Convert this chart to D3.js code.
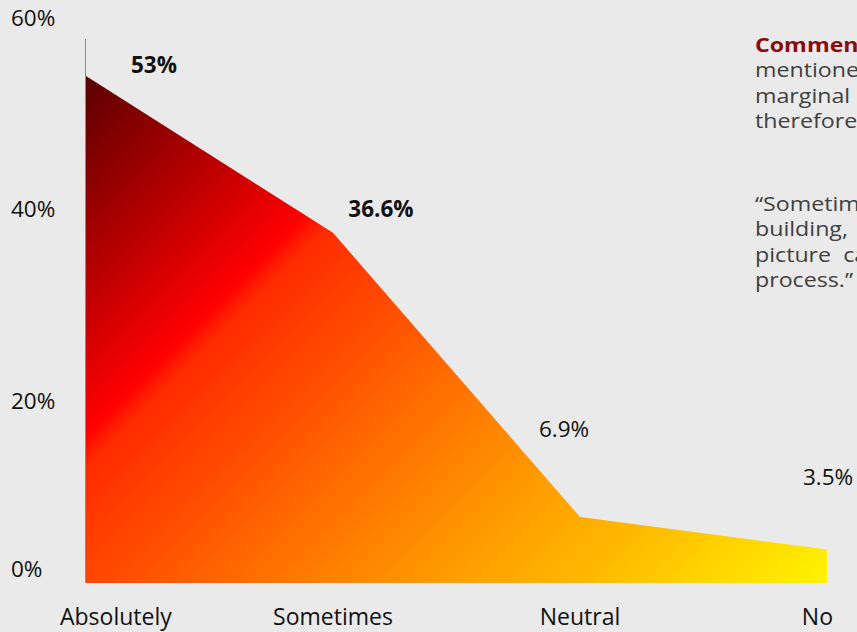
<!DOCTYPE html>
<html>
<head>
<meta charset="utf-8">
<script src="https://cdn.jsdelivr.net/npm/d3@7"></script>
<style>
  html, body { margin: 0; padding: 0; background: #eaeaea; }
  svg { display: block; font-family: "Open Sans", sans-serif; }
</style>
</head>
<body>
<svg id="chart" width="857" height="632"></svg>
<script>
// Survey answers and their share of respondents (%)
const categories = ["Absolutely", "Sometimes", "Neutral", "No"];
const values = [53, 36.6, 6.9, 3.5];
const valueLabels = ["53%", "36.6%", "6.9%", "3.5%"];
const valueBold = [true, true, false, false];
const yTicks = [0, 20, 40, 60];

// Hand-placed offsets of the value labels from their points (dx, dy)
const labelNudge = [[68, -11], [48, -24], [-16, -88], [1, -73]];

// Side note: two paragraphs, one entry per line
const notePara1 = ["Comments:", "mentioned", "marginal", "therefore"];
const notePara2 = ["\u201cSometimes", "building,", "picture  can", "process.\u201d"];

const svg = d3.select("#chart");

const x = d3.scalePoint().domain(categories).range([86, 827]);
const y = d3.scaleLinear().domain([0, 60]).range([583, 9]);

// Diagonal fire gradient: dark red -> red -> orange -> yellow
const defs = svg.append("defs");
const span = 1247;
const grad = defs.append("linearGradient")
  .attr("id", "fire")
  .attr("gradientUnits", "userSpaceOnUse")
  .attr("x1", x(categories[0])).attr("y1", y(values[0]))
  .attr("x2", x(categories[0]) + span / 2).attr("y2", y(values[0]) + span / 2);
[
  [0, "#5a0000"],
  [230, "#c20000"],
  [358, "#ff0000"],
  [392, "#ff2c00"],
  [520, "#ff4a00"],
  [680, "#ff7200"],
  [860, "#ff9c00"],
  [1000, "#ffb800"],
  [1247, "#fff400"]
].forEach(([s, c]) => grad.append("stop").attr("offset", s / span).attr("stop-color", c));

// Vertical axis line
svg.append("line")
  .attr("x1", 85.5).attr("x2", 85.5)
  .attr("y1", 39).attr("y2", y(0))
  .attr("stroke", "#8c8c8c").attr("stroke-width", 1);

// Area
const data = categories.map((c, i) => ({ c, v: values[i] }));
const area = d3.area()
  .x(d => x(d.c))
  .y0(y(0))
  .y1(d => y(d.v));
svg.append("path")
  .datum(data)
  .attr("d", area)
  .attr("fill", "url(#fire)");

// Y tick labels
svg.append("g")
  .selectAll("text")
  .data(yTicks)
  .join("text")
  .attr("x", 11)
  .attr("y", d => Math.min(y(d) + 9, y(0) - 14))
  .attr("dy", "0.36em")
  .attr("font-size", 22.5)
  .attr("fill", "#111")
  .text(d => d + "%");

// Category labels (kept between the page's left margin and the plot's right end)
const lastX = x(categories[categories.length - 1]);
svg.append("g")
  .selectAll("text")
  .data(categories)
  .join("text")
  .attr("y", 625)
  .attr("font-size", 23)
  .attr("fill", "#111")
  .attr("text-anchor", "middle")
  .text(d => d)
  .each(function (d) {
    const w = this.getComputedTextLength();
    const cx = Math.min(Math.max(x(d), 60 + w / 2), lastX + 6 - w / 2);
    d3.select(this).attr("x", cx);
  });

// Value labels
svg.append("g")
  .selectAll("text")
  .data(data)
  .join("text")
  .attr("x", (d, i) => x(d.c) + labelNudge[i][0])
  .attr("y", (d, i) => y(d.v) + labelNudge[i][1])
  .attr("dy", "0.36em")
  .attr("text-anchor", "middle")
  .attr("font-size", 22.5)
  .attr("font-weight", (d, i) => valueBold[i] ? "bold" : "normal")
  .attr("fill", "#111")
  .text((d, i) => valueLabels[i]);

// Side note, set in a slightly widened face
const note = svg.append("g")
  .attr("font-size", 20)
  .attr("transform", "translate(755,0) scale(1.16,1)");
function paragraph(lines, top) {
  note.append("g")
    .selectAll("text")
    .data(lines)
    .join("text")
    .attr("x", 0)
    .attr("y", (d, i) => top + i * 25.5)
    .attr("xml:space", "preserve")
    .style("white-space", "pre")
    .attr("font-weight", d => d === "Comments:" ? "bold" : "normal")
    .attr("fill", d => d === "Comments:" ? "#8b0a0a" : "#404040")
    .text(d => d);
}
paragraph(notePara1, 52);
paragraph(notePara2, 211);
</script>
</body>
</html>
